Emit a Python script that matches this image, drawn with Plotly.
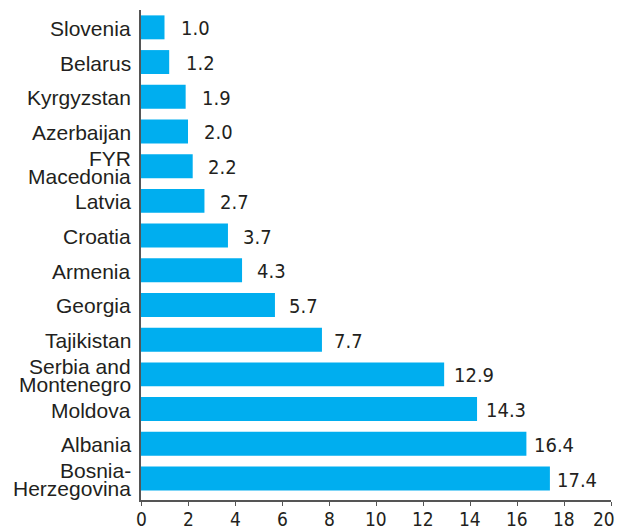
import plotly.graph_objects as go

countries = ["Slovenia", "Belarus", "Kyrgyzstan", "Azerbaijan", "FYR<br>Macedonia", "Latvia",
             "Croatia", "Armenia", "Georgia", "Tajikistan", "Serbia and<br>Montenegro",
             "Moldova", "Albania", "Bosnia-<br>Herzegovina"]
values = [1.0, 1.2, 1.9, 2.0, 2.2, 2.7, 3.7, 4.3, 5.7, 7.7, 12.9, 14.3, 16.4, 17.4]
x_ticks = [0, 2, 4, 6, 8, 10, 12, 14, 16, 18, 20]

BAR = "#00AEEF"
INK = "#231F20"
LABEL_FONT = "Liberation Sans, Arial, sans-serif"
NUM_FONT = "DejaVu Sans Condensed, Liberation Sans Narrow, Arial Narrow, sans-serif"

fig = go.Figure()
fig.add_trace(go.Bar(
    x=values, y=countries, orientation="h",
    marker=dict(color=BAR, line=dict(width=0)),
    hoverinfo="x+y",
))

annotations = []
# value labels
for c, v in zip(countries, values):
    annotations.append(dict(
        x=v, y=c, xref="x", yref="y", text=f"{v:.1f}", showarrow=False,
        xanchor="left", yanchor="middle", xshift=15 - 0.58 * v, yshift=-1,
        font=dict(family=NUM_FONT, size=20, color=INK),
    ))
# category labels (tight line spacing for two-line labels)
for c in countries:
    lines = c.split("<br>")
    n = len(lines)
    for i, line in enumerate(lines):
        off = (i - (n - 1) / 2) * 18
        annotations.append(dict(
            x=0, y=c, xref="paper", yref="y", text=line, showarrow=False,
            xanchor="right", yanchor="middle", xshift=-8, yshift=-off - 1,
            font=dict(family=LABEL_FONT, size=21, color=INK),
        ))
# x tick labels
for t in x_ticks:
    last = t == x_ticks[-1]
    annotations.append(dict(
        x=t, y=0, xref="x", yref="paper", text=str(t), showarrow=False,
        xanchor="right" if last else "center", yanchor="middle",
        xshift=6 if last else 0, yshift=-18.5,
        font=dict(family=NUM_FONT, size=19, color=INK),
    ))

fig.update_layout(
    width=618, height=531,
    margin=dict(l=140.5, r=6.5, t=9.5, b=30.5, autoexpand=False),
    paper_bgcolor="white", plot_bgcolor="white",
    bargap=0.31,
    showlegend=False,
    annotations=annotations,
    xaxis=dict(
        range=[0, 20], tickvals=x_ticks, showticklabels=False,
        showgrid=False, zeroline=False,
        showline=True, linecolor="#555555", linewidth=1.5,
        ticks="outside", ticklen=4, tickcolor="#555555", tickwidth=1,
        automargin=False,
        fixedrange=True,
    ),
    yaxis=dict(
        categoryorder="array", categoryarray=countries, autorange="reversed",
        showticklabels=False, showgrid=False, zeroline=False,
        showline=True, linecolor="#555555", linewidth=1.5, ticks="",
        automargin=False,
        fixedrange=True,
    ),
)

fig.write_html("out.html", config={"displayModeBar": False},
               post_script="document.body.style.margin='0';")
